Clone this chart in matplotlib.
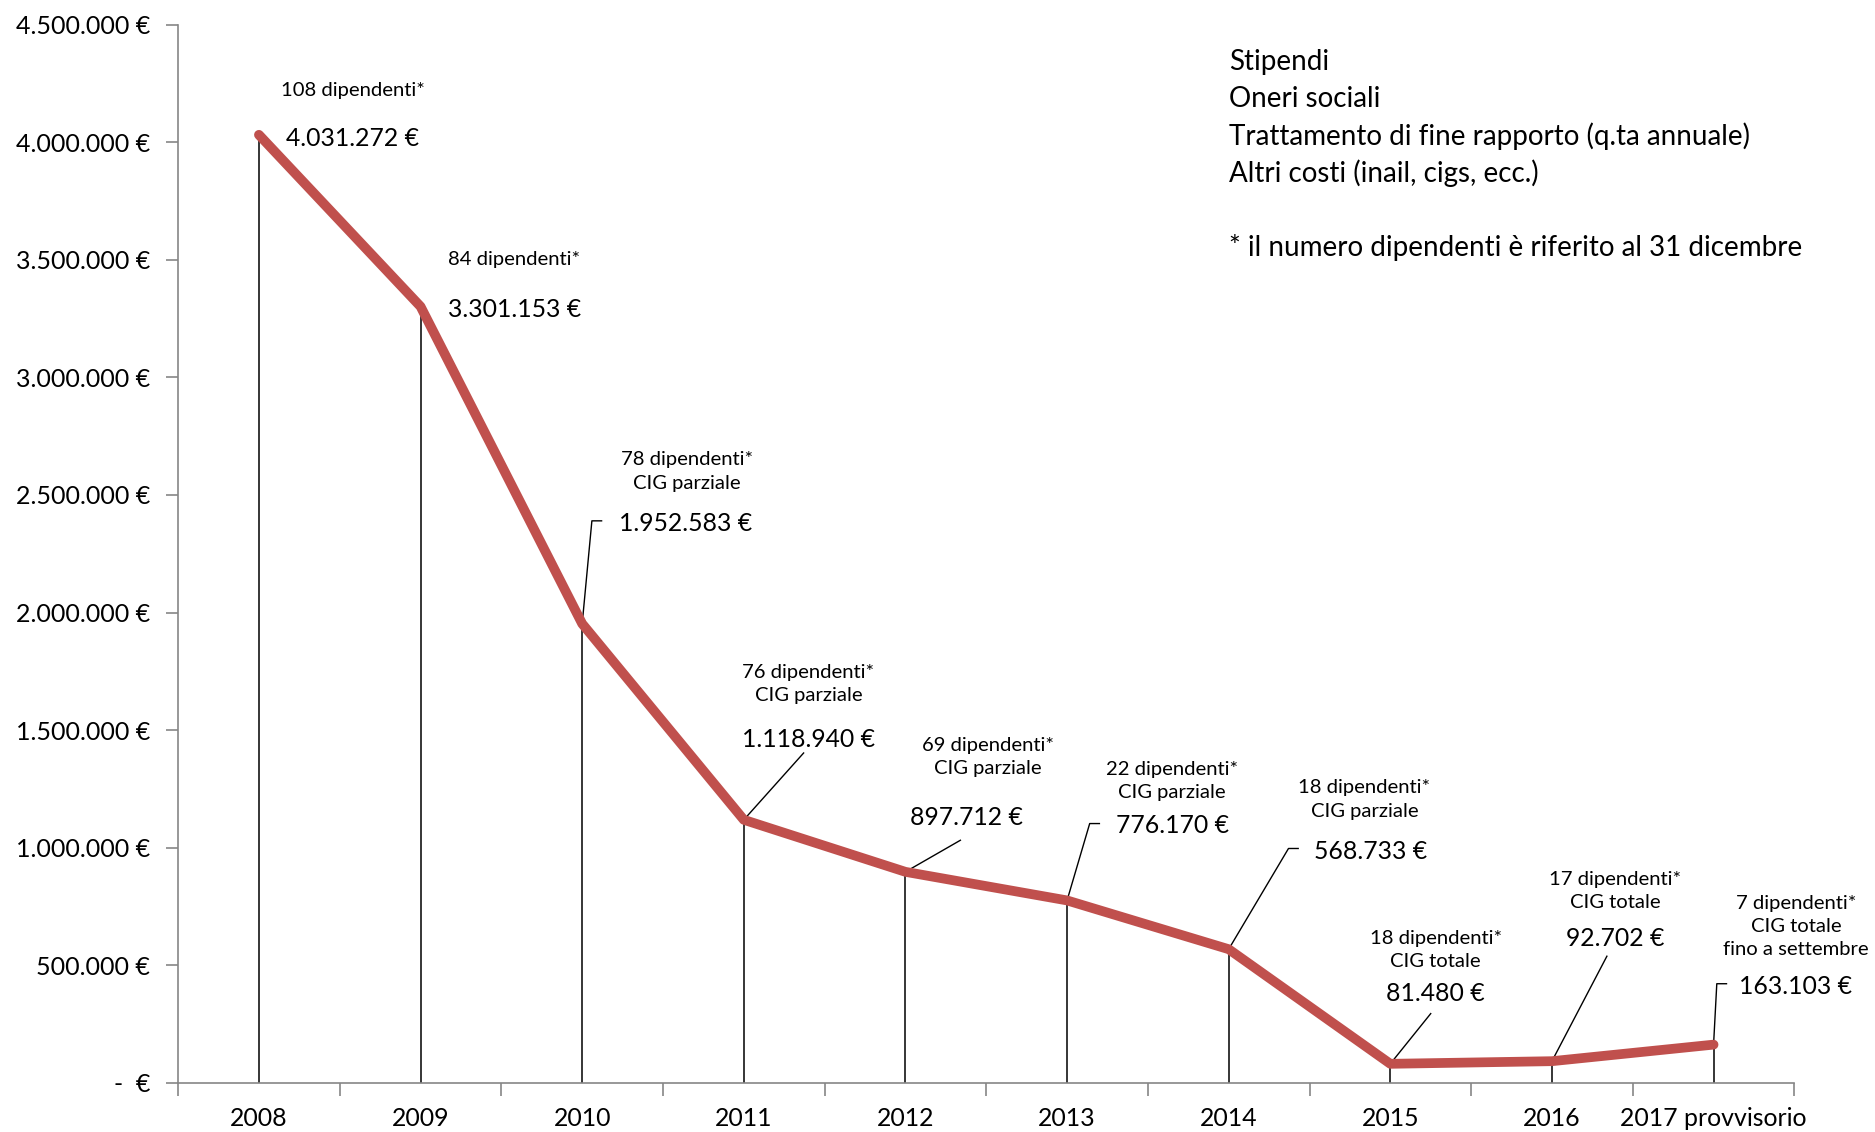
import numpy as np
import matplotlib.pyplot as plt
from matplotlib.ticker import FuncFormatter

plt.rcParams['font.family'] = ['Lato', 'DejaVu Sans']

years = ['2008', '2009', '2010', '2011', '2012', '2013', '2014', '2015', '2016', '2017 provvisorio']
costs = [4031272, 3301153, 1952583, 1118940, 897712, 776170, 568733, 81480, 92702, 163103]
notes = ['108 dipendenti*', '84 dipendenti*', '78 dipendenti*\nCIG parziale',
         '76 dipendenti*\nCIG parziale', '69 dipendenti*\nCIG parziale',
         '22 dipendenti*\nCIG parziale', '18 dipendenti*\nCIG parziale',
         '18 dipendenti*\nCIG totale', '17 dipendenti*\nCIG totale',
         '7 dipendenti*\nCIG totale\nfino a settembre']
legend_lines = ['Stipendi', 'Oneri sociali', 'Trattamento di fine rapporto (q.ta annuale)',
                'Altri costi (inail, cigs, ecc.)', '', '* il numero dipendenti è riferito al 31 dicembre']

# where the labels sit (x in category units, y in euro)
value_pos = [(0.58, 4.015e6), (1.58, 3.29e6), (2.64, 2.38e6), (3.40, 1.46e6), (4.38, 1.13e6),
             (5.65, 1.095e6), (6.88, 0.985e6), (7.28, 0.38e6), (8.39, 0.615e6), (9.51, 0.41e6)]
note_pos = [(0.58, 4.22e6), (1.58, 3.50e6), (2.65, 2.60e6), (3.40, 1.695e6), (4.51, 1.385e6),
            (5.65, 1.285e6), (6.84, 1.205e6), (7.28, 0.565e6), (8.39, 0.815e6), (9.51, 0.665e6)]
# leader lines: (end x, end y, hook) ; None = no leader
leaders = [None, None, (2.06, 2.39e6, True), (3.37, 1.403e6, False), (4.34, 1.032e6, False),
           (5.14, 1.103e6, True), (6.37, 0.997e6, True), (7.25, 0.295e6, False),
           (8.34, 0.539e6, False), (9.02, 0.422e6, True)]

def euro(v, pos=None):
    if v == 0:
        return '-  €'
    return '{:,.0f} €'.format(v).replace(',', '.')

fig = plt.figure(figsize=(18.75, 11.32), dpi=100)
ax = fig.add_axes([0.095, 0.0433, 0.862, 0.935])
x = np.arange(len(years))

# drop lines
ax.vlines(x, 0, costs, color='black', linewidth=1.1, zorder=2)
ax.plot(x, costs, color='#C0504D', linewidth=7, solid_capstyle='round', solid_joinstyle='round', zorder=3)

for i, v in enumerate(costs):
    ax.text(value_pos[i][0], value_pos[i][1], euro(v), ha='center', va='center', fontsize=17.8)
    ax.text(note_pos[i][0], note_pos[i][1], notes[i], ha='center', va='center', fontsize=14.6,
            linespacing=1.45)
    if leaders[i] is not None:
        ex, ey, hook = leaders[i]
        xs = [i, ex]
        ys = [v, ey]
        if hook:
            xs.append(ex + 0.06)
            ys.append(ey)
        ax.plot(xs, ys, color='black', linewidth=1.0, zorder=2)

ax.set_xlim(-0.5, len(years) - 0.5)
ax.set_ylim(0, 4500000)
ax.set_yticks(np.arange(0, 4500001, 500000))
ax.yaxis.set_major_formatter(FuncFormatter(euro))
ax.set_xticks(x)
ax.set_xticklabels(years)
ax.set_xticks(np.arange(-0.5, len(years), 1), minor=True)
ax.tick_params(axis='x', which='major', length=0, pad=17, labelsize=17.9)
ax.tick_params(axis='x', which='minor', length=9, color='#868686', width=1.2)
ax.tick_params(axis='y', length=9, color='#868686', width=1.2, pad=11, labelsize=18)

for s in ['top', 'right']:
    ax.spines[s].set_visible(False)
for s in ['left', 'bottom']:
    ax.spines[s].set_color('#868686')
    ax.spines[s].set_linewidth(1.2)

for k, line in enumerate(legend_lines):
    fig.text(0.6555, 0.945 - k * 0.0327, line, ha='left', va='center', fontsize=20)

plt.savefig('out.png', dpi=100)
